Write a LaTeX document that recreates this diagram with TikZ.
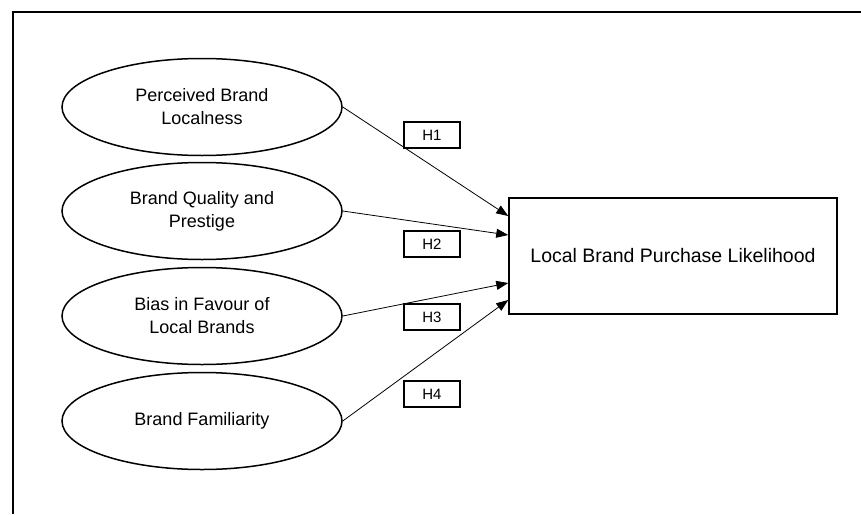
\documentclass[tikz,border=0pt]{standalone}
\usepackage{fontspec}
\setmainfont{Liberation Sans}
\usetikzlibrary{shapes.geometric,arrows.meta}
\begin{document}
\begin{tikzpicture}[x=1pt,y=-1pt,
  construct/.style={ellipse,draw,line width=1.5pt,minimum width=280pt,minimum height=97pt,
    inner sep=0pt,align=center,font=\fontsize{18}{23}\selectfont},
  outcome/.style={rectangle,draw,line width=1.5pt,minimum width=328pt,minimum height=116pt,
    inner sep=0pt,font=\fontsize{19.5}{24}\selectfont},
  hyp/.style={rectangle,draw,line width=1.4pt,minimum width=56pt,minimum height=26pt,
    inner sep=0pt,font=\fontsize{15}{18}\selectfont},
  path/.style={line width=0.8pt,-{Triangle[length=12pt,width=9pt]}}]
  \useasboundingbox (0,0) rectangle (861,514);
  % open frame: top and left edges
  \draw[line width=2pt] (13,514) -- (13,12) -- (861,12);
  % antecedent constructs
  \node[construct] (loc) at (202,107) {Perceived Brand\\Localness};
  \node[construct] (qual) at (202,211) {Brand Quality and\\Prestige};
  \node[construct] (bias) at (202,316) {Bias in Favour of\\Local Brands};
  \node[construct] (fam) at (202,421) {Brand Familiarity};
  % outcome
  \node[outcome] (like) at (673,256) {Local Brand Purchase Likelihood};
  % hypothesis labels
  \node[hyp] (h1) at (432,135) {H1};
  \node[hyp] (h2) at (432,244) {H2};
  \node[hyp] (h3) at (432,317) {H3};
  \node[hyp] (h4) at (432,394) {H4};
  % hypothesised paths
  \draw[path] (loc.east) -- ([yshift=40pt]like.west);
  \draw[path] (qual.east) -- ([yshift=21pt]like.west);
  \draw[path] (bias.east) -- ([yshift=-27pt]like.west);
  \draw[path] (fam.east) -- ([yshift=-44pt]like.west);
\end{tikzpicture}
\end{document}
